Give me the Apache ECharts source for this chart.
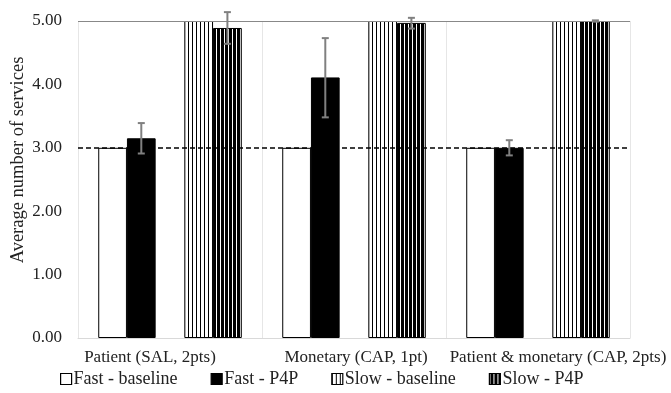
<!DOCTYPE html>
<html>
<head>
<meta charset="utf-8">
<script src="https://cdn.jsdelivr.net/npm/echarts@6/dist/echarts.min.js"></script>
<style>html,body{margin:0;padding:0;background:#fff;}#c{width:671px;height:393px;}</style>
</head>
<body>
<div id="c"></div>
<script>
var categories = ['Patient (SAL, 2pts)', 'Monetary (CAP, 1pt)', 'Patient & monetary (CAP, 2pts)'];
var seriesNames = ['Fast - baseline', 'Fast - P4P', 'Slow - baseline', 'Slow - P4P'];
var fastBaseline = [3.00, 3.00, 3.00];
var fastP4P = [3.15, 4.11, 3.00];
var slowBaseline = [5.00, 5.00, 5.00];
var slowP4P = [4.89, 4.97, 5.00];
var fastP4PErrLow = [2.91, 3.48, 2.88];
var fastP4PErrHigh = [3.39, 4.73, 3.12];
var slowP4PErrLow = [4.64, 4.88, 4.99];
var slowP4PErrHigh = [5.14, 5.05, 5.01];
var yTicks = [0, 1, 2, 3, 4, 5];
var referenceLine = 3.00;
var topLine = 5.00;

var FONT = 'Liberation Serif';
var TXT = '#222';
var CAT_GAP = 0.22;
var SLOTS = 5;
// horizontal nudge of each category label (px), as placed in the original
var labelShift = [-40, 4, 40];

function stripe(bg, fg, period, lineW) {
  var c = document.createElement('canvas');
  c.width = period; c.height = 4;
  var g = c.getContext('2d');
  g.fillStyle = bg; g.fillRect(0, 0, period, 4);
  g.fillStyle = fg; g.fillRect(0, 0, lineW, 4);
  return { image: c, repeat: 'repeat' };
}
var slowBasePattern = stripe('#ffffff', '#000000', 4, 1);
var slowP4PPattern = stripe('#000000', '#ffffff', 4, 1);

function errData(low, high, slot) {
  return categories.map(function (c, i) { return [i, low[i], high[i], slot]; });
}

var catData = categories.map(function (c, i) {
  var s = labelShift[i];
  return { value: c, textStyle: { padding: s < 0 ? [0, -s, 0, 0] : [0, 0, 0, s] } };
});

var chart = echarts.init(document.getElementById('c'));
var barBase = { type: 'bar', barGap: '0%', barCategoryGap: (CAT_GAP * 100) + '%' };
chart.setOption({
  animation: false,
  grid: { left: 78, right: 41, top: 21, bottom: 55, containLabel: false, outerBoundsMode: 'none' },
  legend: {
    data: seriesNames,
    icon: 'rect',
    left: 55, top: 365,
    itemWidth: 11, itemHeight: 11, itemGap: 33,
    itemStyle: { borderColor: '#000', borderWidth: 1.2 },
    textStyle: { fontFamily: FONT, fontSize: 18, color: TXT, padding: [0, 0, 0, -3] }
  },
  xAxis: {
    type: 'category', data: catData,
    axisLine: { show: true, lineStyle: { color: '#d9d9d9' } },
    axisTick: { show: false },
    splitLine: { show: true, lineStyle: { color: '#e6e6e6' } },
    axisLabel: { interval: 0, fontFamily: FONT, fontSize: 17, color: TXT, margin: 11 }
  },
  yAxis: {
    type: 'value', min: yTicks[0], max: yTicks[yTicks.length - 1], interval: 1,
    name: 'Average number of services', nameLocation: 'middle', nameGap: 50,
    nameMoveOverlap: false,
    nameTextStyle: { fontFamily: FONT, fontSize: 18.5, color: TXT, padding: [0, 0, 0, 39] },
    axisLine: { show: false }, axisTick: { show: false },
    splitLine: { show: false },
    axisLabel: { fontFamily: FONT, fontSize: 17, color: TXT, margin: 16,
      formatter: function (v) { return v.toFixed(2); } }
  },
  series: [
    Object.assign({}, barBase, { name: seriesNames[0], data: fastBaseline,
      itemStyle: { color: '#ffffff', borderColor: '#000', borderWidth: 1 } }),
    Object.assign({}, barBase, { name: seriesNames[1], data: fastP4P,
      itemStyle: { color: '#000000', borderColor: '#000', borderWidth: 1 } }),
    Object.assign({}, barBase, { name: 'spacer', data: categories.map(function () { return null; }),
      itemStyle: { color: 'transparent' } }),
    Object.assign({}, barBase, { name: seriesNames[2], data: slowBaseline,
      itemStyle: { color: slowBasePattern, borderColor: '#000', borderWidth: 1 } }),
    Object.assign({}, barBase, { name: seriesNames[3], data: slowP4P,
      itemStyle: { color: slowP4PPattern, borderColor: '#000', borderWidth: 1 },
      markLine: {
        silent: true, symbol: 'none', label: { show: false },
        data: [
          { yAxis: referenceLine, lineStyle: { color: '#000', type: [5, 3], width: 1.5 } },
          { yAxis: topLine, lineStyle: { color: '#888', type: 'solid', width: 1.2 } }
        ]
      } }),
    {
      type: 'custom', name: 'err', z: 10,
      data: errData(fastP4PErrLow, fastP4PErrHigh, 1).concat(errData(slowP4PErrLow, slowP4PErrHigh, 4)),
      encode: { x: 0, y: [1, 2] },
      renderItem: function (params, api) {
        var cat = api.value(0), slot = api.value(3);
        var hi = api.coord([cat, api.value(2)]);
        var lo = api.coord([cat, api.value(1)]);
        var catW = api.size([1, 0])[0];
        var barW = catW * (1 - CAT_GAP) / SLOTS;
        var x = hi[0] + (slot - 2) * barW;
        var st = { stroke: '#808080', lineWidth: 2 };
        return { type: 'group', children: [
          { type: 'line', shape: { x1: x, y1: hi[1], x2: x, y2: lo[1] }, style: st },
          { type: 'line', shape: { x1: x - 3.5, y1: hi[1], x2: x + 3.5, y2: hi[1] }, style: st },
          { type: 'line', shape: { x1: x - 3.5, y1: lo[1], x2: x + 3.5, y2: lo[1] }, style: st }
        ] };
      }
    }
  ]
});
</script>
</body>
</html>
